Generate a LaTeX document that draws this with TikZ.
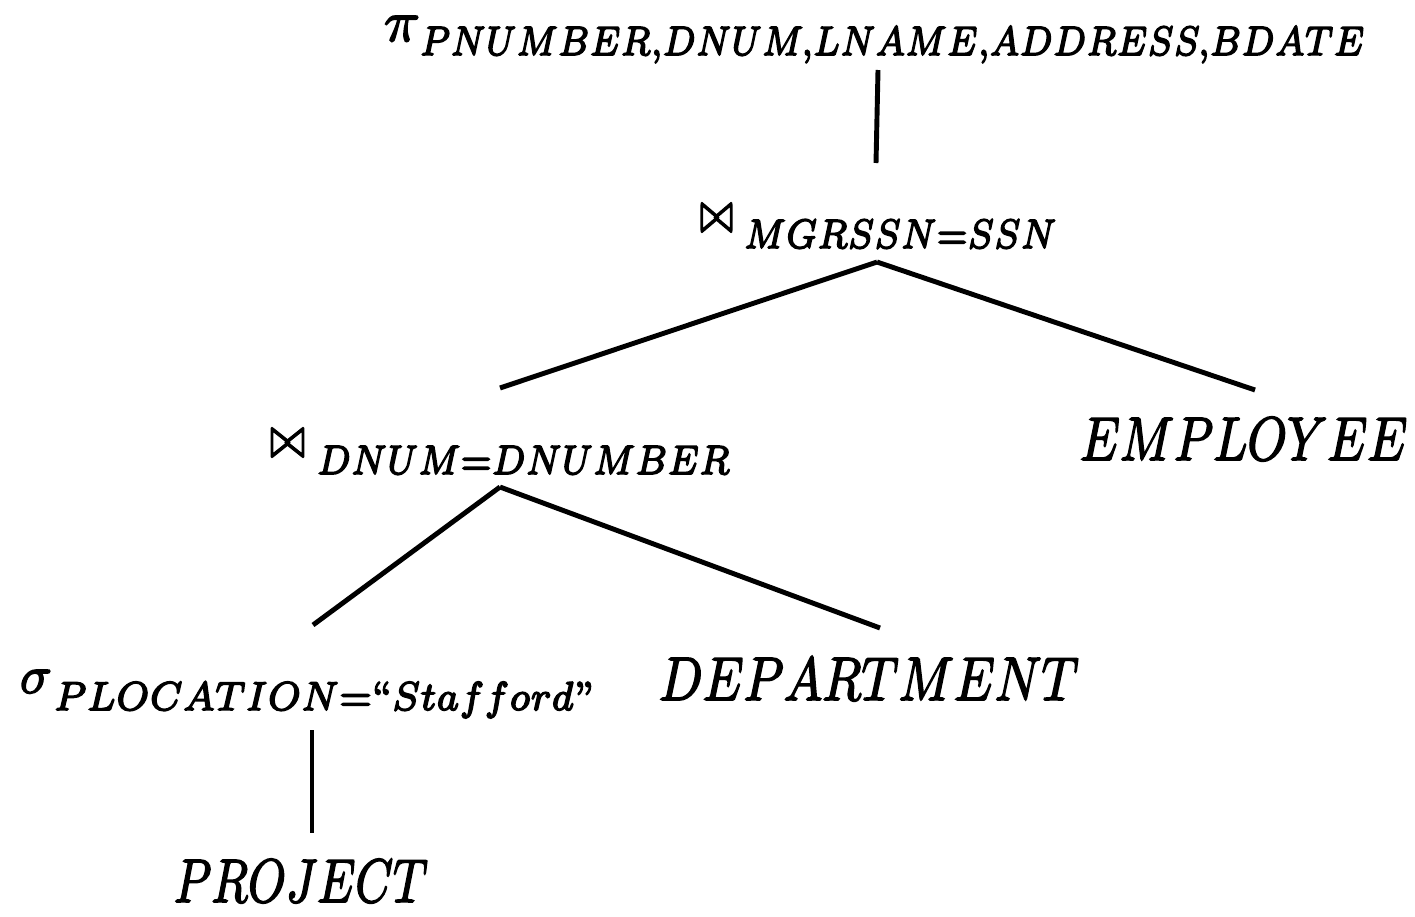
\documentclass[tikz,border=0pt]{standalone}
\usepackage{amsmath}
\usepackage{graphicx}
% glyphs filled and outlined, for a slightly heavier stroke
\newcommand{\heavy}[1]{\special{pdf:literal direct 2 Tr 0.28 w}#1\special{pdf:literal direct 0 Tr}}
% a math glyph or word stretched to a given width and height
\newcommand{\fitmath}[3]{\resizebox{#1}{#2}{\heavy{$#3$}}}
% subscript set below the baseline of the operator
\newcommand{\lowsub}[4]{\hspace*{#1}\raisebox{#2}{\fitmath{#3}{0.56cm}{\scriptstyle #4}}}
\begin{document}
\begin{tikzpicture}[x=0.02cm,y=-0.02cm,
  lbl/.style={anchor=base west, inner sep=0pt, outer sep=0pt},
  edge/.style={line width=2.8pt}]
\useasboundingbox (0,0) rectangle (1415,916);

% edge end points
\coordinate (projB) at (878,70);
\coordinate (join1T) at (876,163);
\coordinate (join1B) at (877,262);
\coordinate (join2T) at (500,388);
\coordinate (empT) at (1255,390);
\coordinate (join2B) at (500,487);
\coordinate (selT) at (313,625);
\coordinate (deptT) at (880,628);
\coordinate (selB) at (312,730);
\coordinate (prjT) at (312,833);

% tree edges
\draw[edge] (projB) -- (join1T);
\draw[edge] (join1B) -- (join2T);
\draw[edge] (join1B) -- (empT);
\draw[edge] (join2B) -- (selT);
\draw[edge] (join2B) -- (deptT);
\draw[edge] (selB) -- (prjT);

% operator labels
\node[lbl] (proj) at (384,41)
  {\fitmath{0.72cm}{0.5cm}{\pi}\lowsub{0cm}{-0.28cm}{18.9cm}{PNUMBER,DNUM,LNAME,ADDRESS,BDATE}};
\node[lbl] (join1) at (700,232)
  {\fitmath{0.66cm}{0.54cm}{\bowtie}\lowsub{0.22cm}{-0.32cm}{6.25cm}{MGRSSN=SSN}};
\node[lbl] (join2) at (270,457)
  {\fitmath{0.7cm}{0.54cm}{\bowtie}\lowsub{0.24cm}{-0.34cm}{8.26cm}{DNUM=DNUMBER}};
\node[lbl] (sel) at (20,693)
  {\fitmath{0.64cm}{0.46cm}{\sigma}\lowsub{0.04cm}{-0.34cm}{10.8cm}{PLOCATION=\text{``}Stafford\text{''}}};

% relation names
\node[lbl] (emp) at (1080,460) {\fitmath{6.55cm}{0.84cm}{EMPLOYEE}};
\node[lbl] (dept) at (659,700) {\fitmath{8.4cm}{0.84cm}{DEPARTMENT}};
\node[lbl] (prj) at (174,902) {\fitmath{5.08cm}{0.84cm}{PROJECT}};
\end{tikzpicture}
\end{document}
